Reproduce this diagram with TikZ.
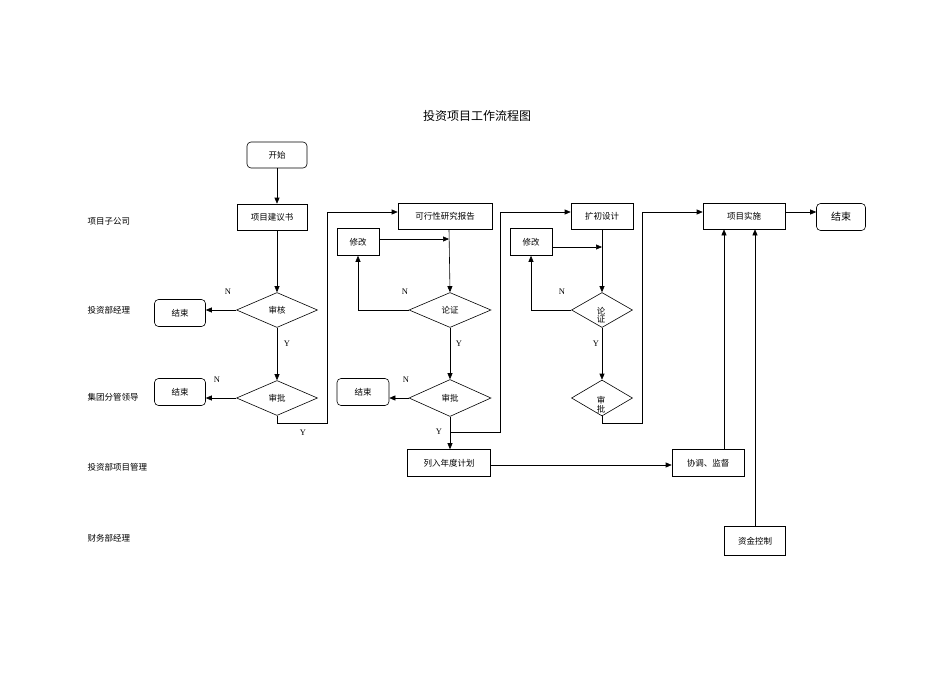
\documentclass[tikz,border=0pt]{standalone}
\usepackage{fontspec}
\setmainfont{Liberation Serif}
\newfontfamily\cjk{Noto Sans CJK SC}
\usetikzlibrary{shapes.geometric,arrows.meta}
\begin{document}
\begin{tikzpicture}[x=1pt,y=-1pt,
 every node/.style={font=\cjk\fontsize{8.5}{10}\selectfont},
 box/.style={draw,minimum height=26pt,inner sep=0pt},
 rbox/.style={box,rounded corners=4pt},
 dia/.style={draw,diamond,aspect=2.3,inner sep=0pt},
 lbl/.style={font=\fontsize{8.5}{10}\selectfont},
 arr/.style={-{Triangle[length=6pt,width=5pt]}},
 line width=0.6pt]
\useasboundingbox (0,0) rectangle (950,672);
\node[font=\cjk\fontsize{12}{14}\selectfont] (title) at (477,116) {投资项目工作流程图};
\node[anchor=west] (l1) at (84,221) {项目子公司};
\node[anchor=west] (l2) at (84,310) {投资部经理};
\node[anchor=west] (l3) at (84,397) {集团分管领导};
\node[anchor=west] (l4) at (84,467) {投资部项目管理};
\node[anchor=west] (l5) at (84,538) {财务部经理};

\node[rbox,minimum width=60pt] (start) at (277,155) {开始};
\node[box,minimum width=70pt] (jys) at (272,217) {项目建议书};
\node[dia,minimum width=81pt,minimum height=35pt] (sh) at (277,310) {审核};
\node[rbox,minimum width=51pt,minimum height=27pt] (e1) at (180,313) {结束};
\node[dia,minimum width=81pt,minimum height=35pt] (sp1) at (277,398) {审批};
\node[rbox,minimum width=51pt,minimum height=27pt] (e2) at (180,392) {结束};

\node[box,minimum width=94pt] (kx) at (445,216) {可行性研究报告};
\node[box,minimum width=42pt,minimum height=27pt] (xg1) at (358,242) {修改};
\node[dia,minimum width=82pt,minimum height=35pt] (lz1) at (450,310) {论证};
\node[dia,minimum width=82pt,minimum height=37pt] (sp2) at (450,398) {审批};
\node[rbox,minimum width=52pt,minimum height=27pt] (e3) at (363,392) {结束};
\node[box,minimum width=83pt,minimum height=27pt] (lr) at (449,463) {列入年度计划};

\node[box,minimum width=62pt] (kc) at (602,216) {扩初设计};
\node[box,minimum width=42pt,minimum height=27pt] (xg2) at (531,242) {修改};
\node[dia,minimum width=61pt,minimum height=35pt] (lz2) at (602,310) {};
\node at (601,315) {\shortstack{论\\[-2pt]证}};
\node[dia,minimum width=61pt,minimum height=36pt] (sp3) at (602,398) {};
\node at (601,405) {\shortstack{审\\[-2pt]批}};

\node[box,minimum width=82pt] (ss) at (744,216) {项目实施};
\node[rbox,minimum width=49pt,minimum height=27pt,font=\cjk\fontsize{10}{12}\selectfont] (e4) at (841,217) {结束};
\node[box,minimum width=72pt,minimum height=27pt] (xt) at (708,463) {协调、监督};
\node[box,minimum width=61pt,minimum height=29pt] (zj) at (755,541) {资金控制};

\draw[arr] (start) -- (jys.north -| start);
\draw[arr] (jys.south -| start) -- (sh);
\draw[arr] (sh) -- (sp1);
\draw[arr] (sh.west) -- (e1.east |- sh.west);
\draw[arr] (sp1.west) -- (e2.east |- sp1.west);
\coordinate (c1) at (277,423);
\draw[arr] (sp1.south) -- (c1) -- (327,423) -- (327,212) -- (kx.west |- 0,212);

\draw[arr] (kx.south -| 449,0) -- (lz1.north);
\draw[arr] (xg1.east |- 0,239) -- (449,239);
\draw[arr] (lz1.west) -| (xg1.south);
\draw[arr] (lz1) -- (sp2);
\draw[arr] (sp2.west) -- (e3.east |- sp2.west);
\draw[arr] (sp2.south) -- (lr.north -| sp2);
\draw[arr] (450,432) -- (500,432) -- (500,212) -- (kc.west |- 0,212);

\draw[arr] (kc.south) -- (lz2.north);
\draw[arr] (xg2.east |- 0,247) -- (602,247);
\draw[arr] (lz2.west) -| (xg2.south);
\draw[arr] (lz2) -- (sp3);
\draw[arr] (sp3.south) -- (602,423) -- (642,423) -- (642,212) -- (ss.west |- 0,212);

\draw[arr] (ss.east |- 0,212) -- (e4.west |- 0,212);
\draw[arr] (lr.east |- 0,465) -- (xt.west |- 0,465);
\draw[arr] (xt.north -| 724,0) -- (ss.south -| 724,0);
\draw[arr] (zj.north) -- (ss.south -| zj);

\node[lbl] (n1) at (228,292) {N};
\node[lbl] (y1) at (287,344) {Y};
\node[lbl] (n2) at (217,380) {N};
\node[lbl] (y2) at (303,433) {Y};
\node[lbl] (n3) at (405,292) {N};
\node[lbl] (y3) at (459,344) {Y};
\node[lbl] (n4) at (406,380) {N};
\node[lbl] (y4) at (439,432) {Y};
\node[lbl] (n5) at (562,292) {N};
\node[lbl] (y5) at (596,344) {Y};
\end{tikzpicture}
\end{document}
